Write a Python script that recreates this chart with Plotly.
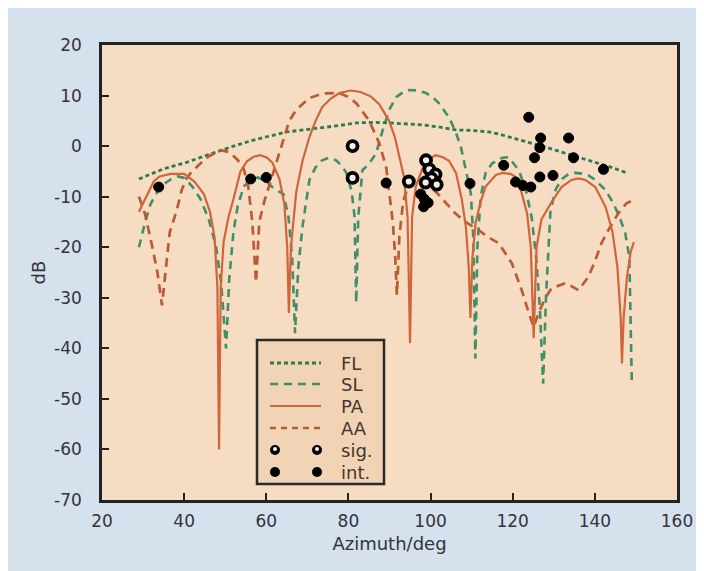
import plotly.graph_objects as go

# ---------------- data ----------------
fl_x = [29, 30.2, 35, 40.6, 45, 48.9, 52, 56.9, 60, 64.9, 69, 73.6, 78, 81.9, 86, 89.9, 94, 97.9, 102, 106.2, 110, 114.2, 117, 119.8, 124, 128, 132, 136, 140, 144, 147.5]
fl_y = [-6.5, -6.1, -4.5, -3.2, -2.0, -0.8, 0.0, 1.2, 1.8, 2.8, 3.2, 3.6, 4.1, 4.6, 4.7, 4.6, 4.4, 4.2, 3.8, 3.2, 3.1, 2.8, 2.3, 1.6, 0.7, -0.2, -1.2, -2.2, -3.1, -4.2, -5.2]

sl_x = [29, 30.5, 31.8, 33.5, 35, 36.9, 38.5, 40, 42, 44, 46, 47.8, 49, 50.2, 51, 52, 53, 54.5, 56.5, 58, 60, 62, 64.2, 65.4, 66.3, 67.0, 67.8, 68.8, 70.5, 72, 73.6, 75.3, 77, 78.5, 79.5, 80.8, 81.5, 81.9, 82.4, 83.4, 85, 86.7, 88.3, 89.9, 91.6, 93.2, 94.8, 96.8, 98.9, 100.5, 102, 104.5, 106.2, 107.4, 108.6, 109.8, 110.4, 110.9, 111.4, 112.2, 113.4, 115, 117.5, 119, 121.5, 123.2, 124.6, 125.7, 126.6, 127.4, 128.1, 129.2, 130.5, 132, 133.5, 135, 136.5, 138.5, 140.1, 142.6, 144.5, 146, 147.4, 148.4, 149]
sl_y = [-20, -15, -11.5, -9, -7.5, -6.5, -6, -6.3, -8, -10.5, -14.5, -20, -27, -40, -26, -17, -12, -8, -6.5, -6.2, -7, -8.5, -9.5, -14, -22, -37, -24, -16, -6.7, -4.2, -2.8, -2.3, -2.8, -4, -5.3, -9, -14, -31, -14, -4.8, -3.5, -1.5, 3, 7.1, 9.7, 10.6, 11.1, 11, 10.5, 9.7, 8.5, 5.7, 2.6, -0.2, -4.8, -9.3, -18, -42, -20, -10, -5.3, -3.4, -2.3, -2.2, -4.8, -8.7, -14, -22, -32, -47, -30, -12.7, -8.5, -6.5, -5.6, -5.3, -5.4, -5.8, -6.7, -8.7, -11.3, -14, -17.2, -22, -47]

pa_x = [29, 30.2, 31.5, 32.6, 34, 36.7, 40, 42.5, 44.8, 46.3, 47.4, 48.1, 48.5, 48.9, 49.6, 50.8, 52, 53.7, 55.3, 56.9, 58.6, 60.2, 61.5, 63.2, 64.4, 65.1, 65.5, 66, 67.3, 68.8, 70.5, 72, 73.6, 75.7, 77.8, 80.5, 83, 85.5, 87.5, 89.9, 91.3, 92.3, 93.5, 94.4, 95, 95.5, 96.4, 98, 99.6, 101.3, 103, 104.5, 106.2, 107.6, 108.6, 109.3, 109.7, 110.2, 111, 112.2, 113.4, 115.9, 117.5, 119.5, 120.7, 122.2, 123.5, 124.4, 125.1, 125.8, 127, 129.5, 131.9, 134.3, 136, 137.7, 140.1, 142.6, 144.3, 145.5, 146.3, 146.6, 147, 147.8, 148.7, 149.5]
pa_y = [-13, -11, -8.5, -7, -6, -5.5, -5.5, -7, -9.5, -13, -18, -28, -60, -28, -19, -14, -10.5, -5, -3, -2.1, -1.8, -2.3, -3.3, -6.5, -11.5, -20, -33, -20, -9, -3, 1.8, 5, 7.7, 9.4, 10.5, 11, 10.7, 9.8, 8.3, 5, 1.8, -1.5, -6, -14, -39, -14, -8, -4.5, -2.5, -1.8, -2.2, -2.9, -5.3, -10.5, -16, -24, -34, -22, -15, -11, -8, -5.7, -5.3, -5.5, -6.1, -9.3, -13.3, -20, -38, -20, -14.5, -11, -8.1, -6.7, -6.4, -6.7, -8.1, -12, -17, -24, -34, -43, -34, -26, -21, -19]

aa_x = [29, 30.5, 32, 33.5, 34.6, 35.5, 36.5, 38.2, 39.4, 40.5, 41.6, 43.5, 46, 48.9, 51, 53, 54.5, 55.6, 56.6, 57.5, 58.3, 59.5, 61, 62.5, 64, 65.6, 67.3, 70.5, 73.6, 77.8, 80, 81.9, 85, 87.5, 89.2, 89.9, 90.8, 91.4, 91.8, 92.4, 93.3, 94.5, 96, 97.5, 99.5, 101.5, 103.5, 106, 108.5, 111.7, 114, 116.6, 119.8, 122.2, 123.9, 125.1, 126.3, 128, 129.5, 132.9, 134.5, 136, 138.4, 140.1, 141.6, 143.3, 145.7, 147.7, 149]
aa_y = [-10, -13.5, -19, -25, -31.5, -25, -17, -12.7, -8.7, -6.5, -5.3, -3.8, -2.0, -0.8, -1.2, -2.7, -4.5, -8, -15, -27, -15, -11, -7, -3, 1, 5, 7.2, 9.5, 10.4, 10.5, 9.7, 8.5, 5.1, 0.6, -4.2, -9.3, -15, -22, -29.5, -18, -11, -8, -6.8, -6.8, -7.8, -9.2, -11, -13.3, -15, -16.6, -18, -19.2, -23.2, -28.5, -33, -35.8, -33, -29.9, -28.1, -27.1, -27.8, -28.5, -25.9, -22.6, -19.2, -16.6, -13.3, -11.3, -10.8]

sig_x = [81, 81, 94.7, 98.9, 99.7, 101.2, 100.2, 98.8, 101.5]
sig_y = [0, -6.3, -7.0, -2.8, -4.6, -5.6, -6.4, -7.2, -7.6]

int_x = [33.8, 56.2, 60, 89.2, 97.6, 98.5, 99.4, 98.3, 109.6, 117.8, 123.9, 126.8, 133.6, 126.6, 125.3, 134.8, 142.1, 120.7, 122.5, 124.4, 126.6, 129.8]
int_y = [-8.1, -6.5, -6.2, -7.3, -9.5, -10.5, -11.2, -12.0, -7.4, -3.8, 5.7, 1.6, 1.6, -0.3, -2.3, -2.3, -4.6, -7.1, -7.8, -8.1, -6.1, -5.8]

x_ticks = [20, 40, 60, 80, 100, 120, 140, 160]
y_ticks = [20, 10, 0, -10, -20, -30, -40, -50, -60, -70]
legend_names = ["FL", "SL", "PA", "AA", "sig.", "int."]

# ---------------- styles ----------------
C_FL = "#2e7a4c"
C_SL = "#3f9068"
C_PA = "#d0653a"
C_AA = "#b95c33"
FONT = "DejaVu Sans"
TXT = "#33333d"

fig = go.Figure()
fig.add_trace(go.Scatter(x=sl_x, y=sl_y, mode="lines", name="SL",
                         line=dict(color=C_SL, width=2.6, dash="8px,6px")))
fig.add_trace(go.Scatter(x=fl_x, y=fl_y, mode="lines", name="FL",
                         line=dict(color=C_FL, width=2.8, dash="4px,3px")))
fig.add_trace(go.Scatter(x=aa_x, y=aa_y, mode="lines", name="AA",
                         line=dict(color=C_AA, width=2.7, dash="9px,6px")))
fig.add_trace(go.Scatter(x=pa_x, y=pa_y, mode="lines", name="PA",
                         line=dict(color=C_PA, width=2.2)))
fig.add_trace(go.Scatter(x=sig_x, y=sig_y, mode="markers", name="sig.",
                         marker=dict(symbol="circle", size=10, color="#f4f0ea",
                                     line=dict(color="black", width=3.8))))
fig.add_trace(go.Scatter(x=int_x, y=int_y, mode="markers", name="int.",
                         marker=dict(symbol="circle", size=10, color="black",
                                     line=dict(color="black", width=1))))

# ---------------- layout ----------------
# the page body adds an 8px margin, so the figure is 8px smaller and offset
OFF = 8
W, H = 704 - OFF, 571 - OFF
L, R, T, B = 102 - OFF, 677 - OFF, 45 - OFF, 500 - OFF   # plot area in figure pixels

def px(x):   # screen px -> paper x
    return (x - OFF - L) / (R - L)

def py(y):   # screen px -> paper y
    return (B - (y - OFF)) / (B - T)

shapes = [
    dict(type="rect", xref="paper", yref="paper", x0=0, x1=1, y0=0, y1=1,
         fillcolor="#f6dcc3", line=dict(width=0), layer="below"),
    # legend box
    dict(type="rect", xref="paper", yref="paper", x0=px(257), x1=px(384), y0=py(484), y1=py(340),
         fillcolor="#f1d4b6", line=dict(color="#2a2a2a", width=2.5)),
]
rows = [363, 384, 406, 428, 450, 472]
sample_styles = [(C_FL, "4px,3px", 2.8), (C_SL, "8px,6px", 2.6), (C_PA, "solid", 2.2), (C_AA, "6px,5px", 2.7)]
for yy, (c, d, w) in zip(rows[:4], sample_styles):
    shapes.append(dict(type="line", xref="paper", yref="paper", x0=px(270), x1=px(321),
                       y0=py(yy), y1=py(yy), line=dict(color=c, dash=d, width=w)))
for cx in (275, 317):
    shapes.append(dict(type="circle", xref="paper", yref="paper", x0=px(cx - 5), x1=px(cx + 5),
                       y0=py(rows[4] + 5), y1=py(rows[4] - 5), fillcolor="black", line=dict(width=0)))
    shapes.append(dict(type="circle", xref="paper", yref="paper", x0=px(cx - 2), x1=px(cx + 2),
                       y0=py(rows[4] + 1), y1=py(rows[4] - 3), fillcolor="#f4f0ea", line=dict(width=0)))
    shapes.append(dict(type="circle", xref="paper", yref="paper", x0=px(cx - 5), x1=px(cx + 5),
                       y0=py(rows[5] + 5), y1=py(rows[5] - 5), fillcolor="black", line=dict(width=0)))

annotations = []
for yy, name in zip(rows, legend_names):
    annotations.append(dict(text=name, xref="paper", yref="paper", x=px(339), y=py(yy),
                            xanchor="left", yanchor="middle", showarrow=False,
                            font=dict(family=FONT, size=18, color="#45362f")))

fig.update_layout(
    width=W, height=H,
    margin=dict(l=L, r=W - R, t=T, b=H - B, pad=0),
    paper_bgcolor="#d5e1ed",
    plot_bgcolor="#f6dcc3",
    showlegend=False,
    shapes=shapes,
    annotations=annotations,
    xaxis=dict(range=[20, 160], tickvals=x_ticks, ticktext=[str(v) for v in x_ticks],
               ticks="inside", ticklen=7, tickwidth=2, tickcolor="#222",
               showline=True, linecolor="#222", linewidth=2.5, mirror=True,
               showgrid=False, zeroline=False, ticklabelstandoff=4,
               tickfont=dict(family=FONT, size=17, color=TXT),
               title=dict(text="Azimuth/deg", standoff=8,
                          font=dict(family=FONT, size=18, color=TXT))),
    yaxis=dict(range=[-70, 20], tickvals=y_ticks, ticktext=[str(v) for v in y_ticks],
               ticks="inside", ticklen=7, tickwidth=2, tickcolor="#222",
               showline=True, linecolor="#222", linewidth=2.5, mirror=True,
               showgrid=False, zeroline=False, ticklabelstandoff=14,
               tickfont=dict(family=FONT, size=17, color=TXT),
               title=dict(text="dB", standoff=4,
                          font=dict(family=FONT, size=18, color=TXT))),
)

fig.write_html("out.html")
